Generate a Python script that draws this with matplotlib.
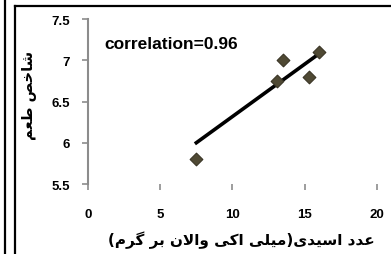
import matplotlib
matplotlib.use("Agg")
import matplotlib.pyplot as plt
from matplotlib.lines import Line2D

# data
acid_value = [7.5, 13.1, 13.5, 15.3, 16.0]
taste_index = [5.8, 6.75, 7.0, 6.8, 7.1]
trend_x = [7.5, 16.0]
trend_y = [6.0, 7.08]
x_ticks = [0, 5, 10, 15, 20]
y_ticks = [5.5, 6, 6.5, 7, 7.5]
y_tick_labels = ["5.5", "6", "6.5", "7", "7.5"]
x_label = "عدد اسیدی(میلی اکی والان بر گرم)"
y_label = "شاخص طعم"
note = "correlation=0.96"

# tiny arabic shaper: matplotlib draws glyphs one by one, no joining, no bidi
FORMS = {
    "ا": ("\uFE8D", "\uFE8E", None, None),
    "ب": ("\uFE8F", "\uFE90", "\uFE91", "\uFE92"),
    "خ": ("\uFEA5", "\uFEA6", "\uFEA7", "\uFEA8"),
    "د": ("\uFEA9", "\uFEAA", None, None),
    "ر": ("\uFEAD", "\uFEAE", None, None),
    "س": ("\uFEB1", "\uFEB2", "\uFEB3", "\uFEB4"),
    "ش": ("\uFEB5", "\uFEB6", "\uFEB7", "\uFEB8"),
    "ص": ("\uFEB9", "\uFEBA", "\uFEBB", "\uFEBC"),
    "ط": ("\uFEC1", "\uFEC2", "\uFEC3", "\uFEC4"),
    "ع": ("\uFEC9", "\uFECA", "\uFECB", "\uFECC"),
    "ل": ("\uFEDD", "\uFEDE", "\uFEDF", "\uFEE0"),
    "م": ("\uFEE1", "\uFEE2", "\uFEE3", "\uFEE4"),
    "ن": ("\uFEE5", "\uFEE6", "\uFEE7", "\uFEE8"),
    "و": ("\uFEED", "\uFEEE", None, None),
    "ک": ("\uFB8E", "\uFB8F", "\uFB90", "\uFB91"),
    "گ": ("\uFB92", "\uFB93", "\uFB94", "\uFB95"),
    "ی": ("\uFBFC", "\uFBFD", "\uFBFE", "\uFBFF"),
}


def joins_left(ch):
    return ch in FORMS and FORMS[ch][2] is not None


def shape(text):
    out = []
    i = 0
    while i < len(text):
        ch = text[i]
        prev = text[i - 1] if i > 0 else ""
        nxt = text[i + 1] if i + 1 < len(text) else ""
        if ch not in FORMS:
            out.append({"(": ")", ")": "("}.get(ch, ch))
            i += 1
            continue
        from_right = joins_left(prev)
        if ch == "ل" and nxt == "ا":
            out.append("\uFEFC" if from_right else "\uFEFB")
            i += 2
            continue
        to_left = joins_left(ch) and nxt in FORMS
        iso, fin, ini, med = FORMS[ch]
        if from_right and to_left:
            out.append(med)
        elif from_right:
            out.append(fin)
        elif to_left:
            out.append(ini)
        else:
            out.append(iso)
        i += 1
    return "".join(reversed(out))


plt.rcParams["font.family"] = ["Liberation Sans", "DejaVu Sans"]
plt.rcParams["font.weight"] = "bold"

fig = plt.figure(figsize=(3.91, 2.55), dpi=100)
ax = fig.add_axes([0.225, 0.2745, 0.739, 0.647])

ax.scatter(acid_value, taste_index, marker="D", s=42, color="#4f4934",
           edgecolors="#3a3526", linewidths=0.8, zorder=3)
ax.plot(trend_x, trend_y, color="black", linewidth=2.6, zorder=2)

ax.set_xlim(0, 20)
ax.set_ylim(5.5, 7.5)
ax.set_xticks(x_ticks)
ax.set_yticks(y_ticks)
ax.set_yticklabels(y_tick_labels)

for side in ("top", "right", "bottom"):
    ax.spines[side].set_visible(False)
ax.spines["left"].set_color("#8c8c8c")
ax.spines["left"].set_linewidth(1.5)
ax.tick_params(axis="both", colors="#8c8c8c", width=1.2, length=4,
               labelcolor="black", labelsize=9.5)
ax.tick_params(axis="x", pad=13)
ax.tick_params(axis="y", pad=9)
for lab in ax.get_xticklabels() + ax.get_yticklabels():
    lab.set_fontweight("bold")

ax.text(1.15, 7.2, note, fontsize=12.5, fontweight="bold", va="center")

fig.text(0.617, 0.058, shape(x_label), family="DejaVu Sans", fontweight="bold",
         fontsize=11, ha="center", va="center")
fig.text(0.074, 0.625, shape(y_label), family="DejaVu Sans", fontweight="bold",
         fontsize=10.5, ha="center", va="center", rotation=90)

# frame lines around the chart
fig.add_artist(Line2D([4.5 / 391, 4.5 / 391], [0, 1], color="black", lw=1.6))
fig.add_artist(Line2D([14.5 / 391, 14.5 / 391], [0, 1 - 6.5 / 255], color="black", lw=1.6))
fig.add_artist(Line2D([14.5 / 391, 1], [1 - 6.5 / 255, 1 - 6.5 / 255], color="black", lw=1.6))

fig.savefig("out.png", dpi=100)
